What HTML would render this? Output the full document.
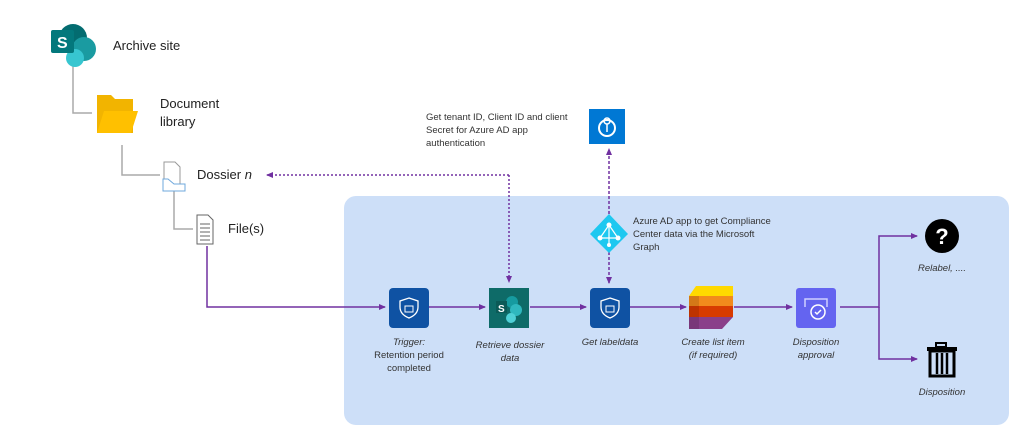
<!DOCTYPE html>
<html><head><style>
body{margin:0;width:1024px;height:435px;background:#fff;position:relative;overflow:hidden;font-family:"Liberation Sans",sans-serif;color:#222}
.t{position:absolute;font-size:13px;line-height:18px}
.l{position:absolute;font-size:9.5px;font-style:italic;line-height:13px;text-align:center;color:#333}
.s{position:absolute;font-size:9.5px;line-height:13px;color:#333}
</style></head><body>
<div style="position:absolute;left:344px;top:196px;width:665px;height:229px;background:#cddff8;border-radius:12px"></div>
<svg width="1024" height="435" style="position:absolute;left:0;top:0">
<defs>
<marker id="a" markerWidth="8" markerHeight="8" refX="6" refY="4" orient="auto" markerUnits="userSpaceOnUse"><path d="M0,1 L7,4 L0,7z" fill="#7030a0"/></marker>
</defs>
<g stroke="#aaa" stroke-width="1.5" fill="none">
<path d="M73,66 V113 H92"/><path d="M122,145 V175 H160"/><path d="M174,190 V229 H193"/>
</g>
<g stroke="#7030a0" stroke-width="1.5" fill="none">
<path d="M207,246 V307 H385" marker-end="url(#a)"/>
<path d="M429,307 H485" marker-end="url(#a)"/>
<path d="M530,307 H586" marker-end="url(#a)"/>
<path d="M630,307 H686" marker-end="url(#a)"/>
<path d="M734,307 H792" marker-end="url(#a)"/>
<path d="M840,307 H879 V236 H917" marker-end="url(#a)"/>
<path d="M879,307 V359 H917" marker-end="url(#a)"/>
<path d="M509,175 H267" stroke-dasharray="2,2" marker-end="url(#a)"/>
<path d="M509,175 V282" stroke-dasharray="2,2" marker-end="url(#a)"/>
<path d="M609,214 V149" stroke-dasharray="3,2" marker-end="url(#a)"/>
<path d="M609,252 V283" stroke-dasharray="3,2" marker-end="url(#a)"/>
</g>
<!-- sharepoint logo -->
<circle cx="73" cy="38" r="14" fill="#036c70"/><circle cx="84" cy="49" r="12" fill="#1a9ba1"/><circle cx="75" cy="58" r="9" fill="#37c6d0"/>
<rect x="51" y="30" width="23" height="23" rx="2" fill="#03787c"/><text x="57" y="48" font-size="16" font-weight="bold" fill="#fff" font-family="Liberation Sans">S</text>
<!-- folder -->
<path d="M97,95 h14 l4,4 h18 v34 h-36z" fill="#f2b400"/><path d="M97,133 l7,-22 h34 l-7,22z" fill="#ffc000"/>
<!-- dossier -->
<path d="M164,162 h11 l5,5 v24 h-16z" fill="#fff" stroke="#999"/><path d="M163,179 h5 l6,5 h11 v7 h-22z" fill="#fff" stroke="#6fa8dc"/>
<!-- file -->
<path d="M197,215 h11 l5,5 v24 h-16z" fill="#fff" stroke="#666"/><g stroke="#666"><line x1="200" y1="224" x2="210" y2="224"/><line x1="200" y1="228" x2="210" y2="228"/><line x1="200" y1="232" x2="210" y2="232"/><line x1="200" y1="236" x2="210" y2="236"/><line x1="200" y1="240" x2="210" y2="240"/></g>
<!-- key box -->
<rect x="589" y="109" width="36" height="35" fill="#0078d4"/><circle cx="607" cy="128" r="8" fill="none" stroke="#fff" stroke-width="2"/><circle cx="607" cy="121" r="3" fill="none" stroke="#fff" stroke-width="1.5"/><line x1="607" y1="124" x2="607" y2="132" stroke="#fff" stroke-width="1.5"/>
<!-- azure diamond -->
<path d="M609,214 L628,234 L609,253 L590,234z" fill="#1ec8f0"/><g stroke="#fff" stroke-width="1.2"><line x1="609" y1="225" x2="600" y2="238"/><line x1="609" y1="225" x2="618" y2="238"/><line x1="600" y1="238" x2="618" y2="238"/><line x1="609" y1="225" x2="609" y2="245"/></g><g fill="#fff"><circle cx="609" cy="225" r="2.5"/><circle cx="600" cy="238" r="2.5"/><circle cx="618" cy="238" r="2.5"/><circle cx="609" cy="245" r="2"/></g>
<!-- shield boxes -->
<rect x="389" y="288" width="40" height="40" rx="4" fill="#0f52a3"/>
<path d="M409,298 l9,3 v6 c0,6 -4,9 -9,11 c-5,-2 -9,-5 -9,-11 v-6z" fill="none" stroke="#fff" stroke-width="1.3"/><rect x="405" y="306" width="8" height="6" fill="none" stroke="#fff"/>
<rect x="590" y="288" width="40" height="40" rx="4" fill="#0f52a3"/>
<path d="M610,298 l9,3 v6 c0,6 -4,9 -9,11 c-5,-2 -9,-5 -9,-11 v-6z" fill="none" stroke="#fff" stroke-width="1.3"/><rect x="606" y="306" width="8" height="6" fill="none" stroke="#fff"/>
<!-- SP -->
<rect x="489" y="288" width="40" height="40" fill="#0e6b68"/><circle cx="512" cy="302" r="6" fill="#169ba0"/><circle cx="516" cy="310" r="6" fill="#2fb8be"/><circle cx="511" cy="318" r="5" fill="#4fd0d6"/><rect x="496" y="301" width="11" height="12" fill="#0b5a57"/><text x="498" y="312" font-size="10" font-weight="bold" fill="#fff">S</text>
<!-- list -->
<path d="M696,286 h37 v10 h-44z" fill="#ffd900"/><rect x="689" y="296" width="44" height="10" fill="#f28a1c"/><rect x="689" y="306" width="44" height="11" fill="#d83b01"/><path d="M689,317 h44 l-11,12 h-33z" fill="#8a3f8a"/><rect x="689" y="296" width="10" height="33" fill="#000" opacity="0.12"/>
<!-- disposition -->
<rect x="796" y="288" width="40" height="40" rx="3" fill="#6464f0"/><path d="M805,307 v-8 h22 v8" fill="none" stroke="#cfd0ff" stroke-width="1.5"/><circle cx="818" cy="312" r="7" fill="none" stroke="#fff" stroke-width="1.5"/><path d="M815,312 l2,2 l4,-4" fill="none" stroke="#fff" stroke-width="1.5"/>
<!-- question -->
<circle cx="942" cy="236" r="17" fill="#000"/><text x="942" y="244" font-size="22" font-weight="bold" fill="#fff" text-anchor="middle">?</text>
<!-- trash -->
<rect x="936" y="343" width="10" height="4" fill="none" stroke="#000" stroke-width="2"/><rect x="927" y="347" width="30" height="4" fill="#000"/><rect x="930" y="351" width="24" height="25" fill="none" stroke="#000" stroke-width="3"/><g stroke="#000" stroke-width="2.5"><line x1="937" y1="353" x2="937" y2="374"/><line x1="942" y1="353" x2="942" y2="374"/><line x1="947" y1="353" x2="947" y2="374"/></g>
</svg>
<div class="t" style="left:113px;top:37px">Archive site</div>
<div class="t" style="left:160px;top:95px">Document<br>library</div>
<div class="t" style="left:197px;top:166px">Dossier <i>n</i></div>
<div class="t" style="left:228px;top:220px">File(s)</div>
<div class="s" style="left:426px;top:111px">Get tenant ID, Client ID and client<br>Secret for Azure AD app<br>authentication</div>
<div class="s" style="left:633px;top:215px">Azure AD app to get Compliance<br>Center data via the Microsoft<br>Graph</div>
<div class="l" style="left:359px;top:336px;width:100px">Trigger:<br><span style="font-style:normal">Retention period<br>completed</span></div>
<div class="l" style="left:455px;top:339px;width:110px">Retrieve dossier<br>data</div>
<div class="l" style="left:560px;top:336px;width:100px">Get labeldata</div>
<div class="l" style="left:663px;top:336px;width:100px">Create list item<br>(if required)</div>
<div class="l" style="left:766px;top:336px;width:100px">Disposition<br>approval</div>
<div class="l" style="left:892px;top:262px;width:100px">Relabel, ....</div>
<div class="l" style="left:892px;top:386px;width:100px">Disposition</div>
</body></html>
